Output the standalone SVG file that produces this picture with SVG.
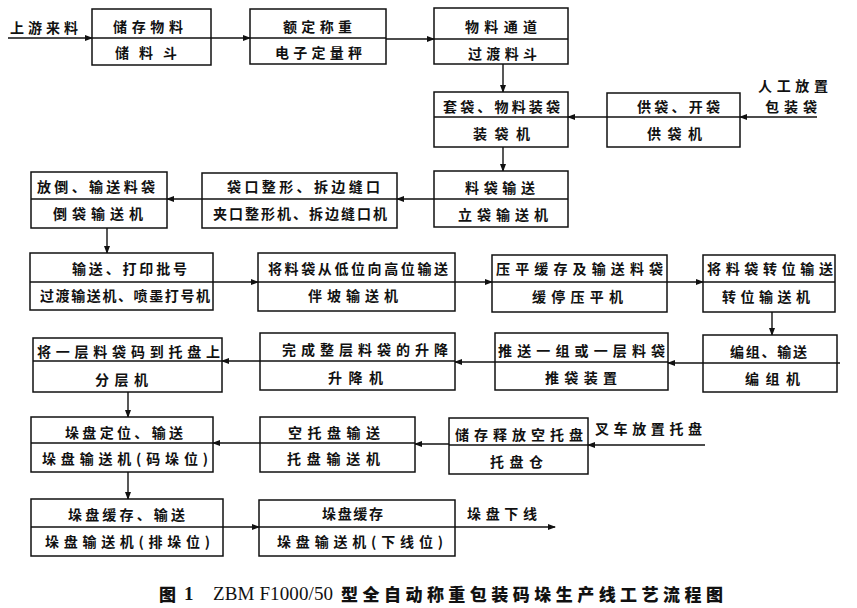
<svg xmlns="http://www.w3.org/2000/svg" width="857" height="608" viewBox="0 0 857 608">
<defs>
<marker id="ah" markerWidth="8" markerHeight="6" refX="7" refY="3" orient="auto" markerUnits="userSpaceOnUse">
<path d="M0,0 L8,3 L0,6 Z" fill="#111"/>
</marker>
</defs>
<style>
.box{fill:#fff;stroke:#111;stroke-width:1.5}
.div{stroke:#111;stroke-width:1.3}
.t{font-family:"Noto Sans CJK SC","Noto Sans",sans-serif;font-size:14px;font-weight:bold;fill:#111;dominant-baseline:central}
.c{stroke:#111;stroke-width:1.4;fill:none;marker-end:url(#ah)}
.capc{font-family:"Noto Sans CJK SC",sans-serif;font-size:17px;font-weight:900;fill:#111;dominant-baseline:central}
.capl{font-family:"Liberation Serif",serif;font-size:19px;fill:#111;dominant-baseline:central}
</style>
<rect width="857" height="608" fill="#fff"/>

<g id="labels">
<text class="t" x="10" y="27" textLength="68" lengthAdjust="spacing">上游来料</text>
<text class="t" x="758" y="85" textLength="70" lengthAdjust="spacing">人工放置</text>
<text class="t" x="765" y="106" textLength="52" lengthAdjust="spacing">包装袋</text>
<text class="t" x="595" y="428" textLength="107" lengthAdjust="spacing">叉车放置托盘</text>
<text class="t" x="467" y="513" textLength="70" lengthAdjust="spacing">垛盘下线</text>
</g>

<g id="connectors">
<line class="c" x1="8" y1="38" x2="92" y2="38"/>
<line class="c" x1="211" y1="38" x2="250" y2="38"/>
<line class="c" x1="386" y1="39" x2="434" y2="39"/>
<line class="c" x1="503" y1="64" x2="503" y2="92"/>
<line class="c" x1="817" y1="117" x2="740" y2="117"/>
<line class="c" x1="607" y1="117" x2="568" y2="117"/>
<line class="c" x1="503" y1="147" x2="503" y2="171"/>
<line class="c" x1="434" y1="199" x2="397" y2="199"/>
<line class="c" x1="202" y1="199" x2="167" y2="199"/>
<line class="c" x1="107" y1="228" x2="107" y2="253"/>
<line class="c" x1="213" y1="282" x2="258" y2="282"/>
<line class="c" x1="455" y1="282" x2="492" y2="282"/>
<line class="c" x1="667" y1="282" x2="703" y2="282"/>
<line class="c" x1="772" y1="312" x2="772" y2="335"/>
<line class="c" x1="703" y1="363" x2="668" y2="363"/>
<line class="c" x1="495" y1="362" x2="455" y2="362"/>
<line class="c" x1="260" y1="361" x2="222" y2="361"/>
<line class="c" x1="128" y1="392" x2="128" y2="417"/>
<line class="c" x1="705" y1="445" x2="588" y2="445"/>
<line class="c" x1="449" y1="444" x2="415" y2="444"/>
<line class="c" x1="260" y1="443" x2="213" y2="443"/>
<line class="c" x1="128" y1="472" x2="128" y2="499"/>
<line class="c" x1="223" y1="527" x2="259" y2="527"/>
<line class="c" x1="455" y1="527" x2="555" y2="527"/>
</g>

<g id="nA"><rect class="box" x="92" y="9" width="119" height="56"/><line class="div" x1="92" y1="38" x2="211" y2="38"/>
<text class="t" x="113" y="26" textLength="70" lengthAdjust="spacing">储存物料</text>
<text class="t" x="115" y="52" textLength="62" lengthAdjust="spacing">储料斗</text></g>

<g id="nB"><rect class="box" x="250" y="9" width="136" height="55"/><line class="div" x1="250" y1="38" x2="386" y2="38"/>
<text class="t" x="283" y="26" textLength="69" lengthAdjust="spacing">额定称重</text>
<text class="t" x="275" y="52" textLength="87" lengthAdjust="spacing">电子定量秤</text></g>

<g id="nC"><rect class="box" x="434" y="8" width="134" height="56"/><line class="div" x1="434" y1="39" x2="568" y2="39"/>
<text class="t" x="465" y="26" textLength="72" lengthAdjust="spacing">物料通道</text>
<text class="t" x="468" y="53" textLength="69" lengthAdjust="spacing">过渡料斗</text></g>

<g id="nD"><rect class="box" x="434" y="92" width="134" height="55"/><line class="div" x1="434" y1="117" x2="568" y2="117"/>
<text class="t" x="443" y="106" textLength="117" lengthAdjust="spacing">套袋、物料装袋</text>
<text class="t" x="473" y="133" textLength="57" lengthAdjust="spacing">装袋机</text></g>

<g id="nE"><rect class="box" x="607" y="93" width="133" height="54"/><line class="div" x1="607" y1="117" x2="740" y2="117"/>
<text class="t" x="637" y="106" textLength="83" lengthAdjust="spacing">供袋、开袋</text>
<text class="t" x="647" y="133" textLength="55" lengthAdjust="spacing">供袋机</text></g>

<g id="nF"><rect class="box" x="434" y="171" width="134" height="56"/><line class="div" x1="434" y1="199" x2="568" y2="199"/>
<text class="t" x="465" y="187" textLength="70" lengthAdjust="spacing">料袋输送</text>
<text class="t" x="458" y="214" textLength="90" lengthAdjust="spacing">立袋输送机</text></g>

<g id="nG"><rect class="box" x="202" y="173" width="195" height="55"/><line class="div" x1="202" y1="199" x2="397" y2="199"/>
<text class="t" x="227" y="186" textLength="153" lengthAdjust="spacing">袋口整形、拆边缝口</text>
<text class="t" x="213" y="213" textLength="174" lengthAdjust="spacing">夹口整形机、拆边缝口机</text></g>

<g id="nH"><rect class="box" x="31" y="172" width="136" height="56"/><line class="div" x1="31" y1="199" x2="167" y2="199"/>
<text class="t" x="37" y="186" textLength="118" lengthAdjust="spacing">放倒、输送料袋</text>
<text class="t" x="53" y="213" textLength="90" lengthAdjust="spacing">倒袋输送机</text></g>

<g id="nI"><rect class="box" x="30" y="253" width="183" height="57"/><line class="div" x1="30" y1="282" x2="213" y2="282"/>
<text class="t" x="72" y="268" textLength="115" lengthAdjust="spacing">输送、打印批号</text>
<text class="t" x="40" y="295" textLength="170" lengthAdjust="spacing">过渡输送机、喷墨打号机</text></g>

<g id="nJ"><rect class="box" x="258" y="253" width="197" height="58"/><line class="div" x1="258" y1="282" x2="455" y2="282"/>
<text class="t" x="268" y="268" textLength="180" lengthAdjust="spacing">将料袋从低位向高位输送</text>
<text class="t" x="308" y="295" textLength="90" lengthAdjust="spacing">伴坡输送机</text></g>

<g id="nK"><rect class="box" x="492" y="255" width="175" height="57"/><line class="div" x1="492" y1="282" x2="667" y2="282"/>
<text class="t" x="496" y="268" textLength="167" lengthAdjust="spacing">压平缓存及输送料袋</text>
<text class="t" x="532" y="296" textLength="91" lengthAdjust="spacing">缓停压平机</text></g>

<g id="nL"><rect class="box" x="703" y="255" width="132" height="57"/><line class="div" x1="703" y1="282" x2="835" y2="282"/>
<text class="t" x="707" y="268" textLength="126" lengthAdjust="spacing">将料袋转位输送</text>
<text class="t" x="722" y="296" textLength="88" lengthAdjust="spacing">转位输送机</text></g>

<g id="nM"><rect class="box" x="703" y="335" width="134" height="57"/><line class="div" x1="703" y1="363" x2="840" y2="363"/>
<text class="t" x="730" y="351" textLength="77" lengthAdjust="spacing">编组、输送</text>
<text class="t" x="745" y="378" textLength="55" lengthAdjust="spacing">编组机</text></g>

<g id="nN"><rect class="box" x="495" y="333" width="173" height="57"/><line class="div" x1="495" y1="362" x2="668" y2="362"/>
<text class="t" x="498" y="350" textLength="167" lengthAdjust="spacing">推送一组或一层料袋</text>
<text class="t" x="545" y="377" textLength="72" lengthAdjust="spacing">推袋装置</text></g>

<g id="nO"><rect class="box" x="260" y="333" width="195" height="57"/><line class="div" x1="260" y1="361" x2="455" y2="361"/>
<text class="t" x="282" y="349" textLength="166" lengthAdjust="spacing">完成整层料袋的升降</text>
<text class="t" x="328" y="377" textLength="55" lengthAdjust="spacing">升降机</text></g>

<g id="nP"><rect class="box" x="33" y="338" width="189" height="54"/><line class="div" x1="33" y1="361" x2="222" y2="361"/>
<text class="t" x="37" y="351" textLength="183" lengthAdjust="spacing">将一层料袋码到托盘上</text>
<text class="t" x="95" y="379" textLength="53" lengthAdjust="spacing">分层机</text></g>

<g id="nQ"><rect class="box" x="31" y="417" width="182" height="55"/><line class="div" x1="31" y1="443" x2="213" y2="443"/>
<text class="t" x="65" y="432" textLength="118" lengthAdjust="spacing">垛盘定位、输送</text>
<text class="t" x="42" y="458" textLength="166" lengthAdjust="spacing">垛盘输送机(码垛位)</text></g>

<g id="nR"><rect class="box" x="260" y="417" width="155" height="55"/><line class="div" x1="260" y1="443" x2="415" y2="443"/>
<text class="t" x="288" y="432" textLength="92" lengthAdjust="spacing">空托盘输送</text>
<text class="t" x="287" y="458" textLength="93" lengthAdjust="spacing">托盘输送机</text></g>

<g id="nS"><rect class="box" x="449" y="418" width="139" height="56"/><line class="div" x1="449" y1="445" x2="588" y2="445"/>
<text class="t" x="455" y="434" textLength="128" lengthAdjust="spacing">储存释放空托盘</text>
<text class="t" x="490" y="461" textLength="53" lengthAdjust="spacing">托盘仓</text></g>

<g id="nT"><rect class="box" x="31" y="499" width="192" height="57"/><line class="div" x1="31" y1="527" x2="223" y2="527"/>
<text class="t" x="68" y="514" textLength="117" lengthAdjust="spacing">垛盘缓存、输送</text>
<text class="t" x="45" y="541" textLength="165" lengthAdjust="spacing">垛盘输送机(排垛位)</text></g>

<g id="nU"><rect class="box" x="259" y="500" width="196" height="56"/><line class="div" x1="259" y1="527" x2="455" y2="527"/>
<text class="t" x="322" y="513" textLength="61" lengthAdjust="spacing">垛盘缓存</text>
<text class="t" x="277" y="541" textLength="166" lengthAdjust="spacing">垛盘输送机(下线位)</text></g>

<g id="caption">
<text class="capc" x="159" y="593">图</text>
<text class="capl" x="184" y="593" font-weight="bold">1</text>
<text class="capl" x="213" y="593" textLength="120" lengthAdjust="spacing">ZBM F1000/50</text>
<text class="capc" x="341" y="593" textLength="382" lengthAdjust="spacing">型全自动称重包装码垛生产线工艺流程图</text>
</g>
</svg>
